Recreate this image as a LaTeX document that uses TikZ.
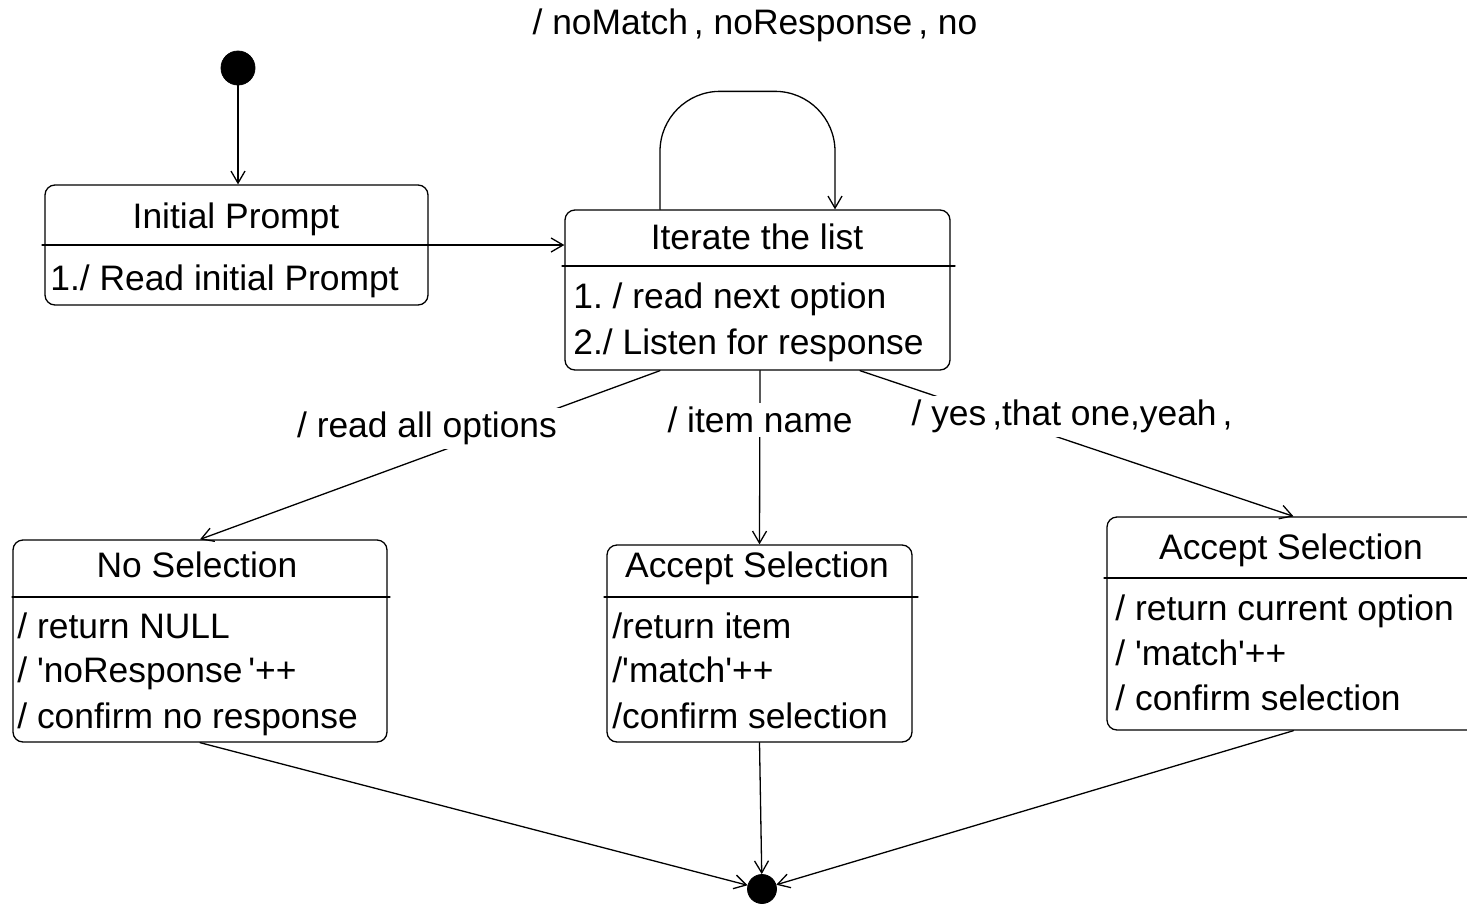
\documentclass[tikz,border=0pt]{standalone}
\usepackage{fontspec}
\setmainfont{Liberation Sans}[Ligatures=TeXOff]
\usetikzlibrary{arrows.meta,fit}

\newcommand{\stateFont}{\fontsize{17.7}{21}\selectfont}
\tikzset{
  state/.style={draw, rounded corners=5pt, line width=0.65pt, inner sep=0pt},
  txt/.style={font=\stateFont, inner sep=0pt},
  trans/.style={-{Straight Barb[length=6pt,width=7pt]}, line width=0.65pt},
  guard/.style={font=\stateFont, fill=white, inner sep=2pt},
  pseudo/.style={circle, fill=black, draw=black, inner sep=0pt}
}

\begin{document}
\frenchspacing
\begin{tikzpicture}
% one unit = one pixel of the sketch, y runs downwards
\begin{scope}[x=0.5pt, y=-0.5pt, line cap=round, line join=round]
  \clip (0,0) rectangle (1467,905);
  \useasboundingbox (0,0) rectangle (1467,905);
  % Pseudo states
  \node[pseudo, minimum size=17pt] (start) at (238,68) {};
  \node[pseudo, minimum size=14.5pt] (stop) at (762,889) {};
  % State boxes
  \node[state, fit={(45,185) (428,305)}] (init) {};
  \node[state, fit={(565,210) (950,370)}] (iter) {};
  \node[state, fit={(13,540) (387,742)}] (nosel) {};
  \node[state, fit={(607,545) (912,742)}] (acc) {};
  \node[state, fit={(1107,517) (1480,730)}] (accr) {};
  % Dividers
  \draw[line width=0.65pt] (42,245) -- (init.east |- 0,245);
  \draw[line width=0.65pt] (562,266) -- (955,266);
  \draw[line width=0.65pt] (12,597) -- (390,597);
  \draw[line width=0.65pt] (604,597) -- (918,597);
  \draw[line width=0.65pt] (1104,578) -- (1467,578);
  % Titles
  \node[txt, anchor=base] (initT) at (236,228.5) {Initial Prompt};
  \node[txt, anchor=base] (iterT) at (757,249.5) {Iterate the list};
  \node[txt, anchor=base] (noselT) at (197,577.5) {No Selection};
  \node[txt, anchor=base] (accT) at (757,577.5) {Accept Selection};
  \node[txt, anchor=base] (accrT) at (1291,559.5) {Accept Selection};
  % Actions
  \node[txt, anchor=base west] (initA) at (50,290) {1./ Read initial Prompt};
  \node[txt, anchor=base west] (iterA) at (573,308.5) {1. / read next option};
  \node[txt, anchor=base west] (iterB) at (573,354.5) {2./ Listen for response};
  \node[txt, anchor=base west] (noselA) at (17,638.5) {/ return NULL};
  \node[txt, anchor=base west] (noselB) at (17,682.5) {/ 'noResponse\,'++};
  \node[txt, anchor=base west] (noselC) at (17,728.5) {/ confirm no response};
  \node[txt, anchor=base west] (accA) at (612,638.5) {/return item};
  \node[txt, anchor=base west] (accB) at (612,682.5) {/'match'++};
  \node[txt, anchor=base west] (accC) at (612,728.5) {/confirm selection};
  \node[txt, anchor=base west] (accrA) at (1115,620.5) {/ return current option};
  \node[txt, anchor=base west] (accrB) at (1115,665.5) {/ 'match'++};
  \node[txt, anchor=base west] (accrC) at (1115,710.5) {/ confirm selection};
  % Transitions
  \draw[trans] (start) -- (start |- init.north);
  \draw[trans] (init.east |- 0,245) -- (iter.west |- 0,245);
  \draw[trans, rounded corners=30pt] ([xshift=-48.75pt]iter.north) -- ++(0,-118) -- ++(175,0) -- ([xshift=38.75pt]iter.north);
  \draw[trans] ([xshift=-48.75pt]iter.south) -- (nosel.north);
  \draw[trans] ([xshift=1.25pt]iter.south) -- (acc.north);
  \draw[trans] ([xshift=51.25pt]iter.south) -- (accr.north);
  \draw[trans] (nosel.south) -- (stop);
  \draw[trans] (acc.south) -- (stop);
  \draw[trans] (accr.south) -- (stop);
  % Guards
  \node[guard, anchor=base] (loopG) at (755,34.5) {/ noMatch\,, noResponse\,, no};
  \node[guard, anchor=base] (allG) at (427,437.5) {/ read all options};
  \node[guard, anchor=base] (itemG) at (760,432.5) {/ item name};
  \node[guard, anchor=base] (yesG) at (1072,425.5) {/ yes\,,that one,yeah\,,};
\end{scope}
\end{tikzpicture}
\end{document}
